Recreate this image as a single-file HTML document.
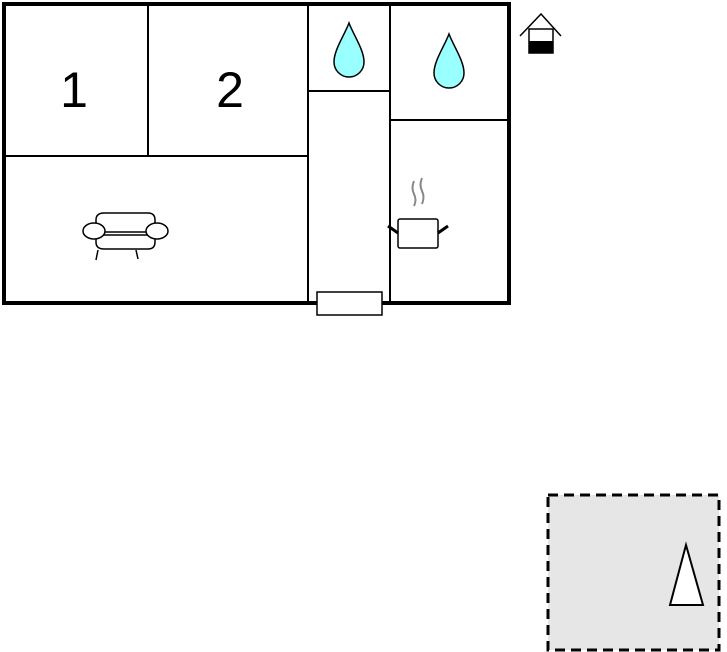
<!DOCTYPE html>
<html><head><style>body{margin:0;background:#fff;}svg{display:block}</style></head><body>
<svg width="727" height="652" xmlns="http://www.w3.org/2000/svg">
<rect x="4" y="4" width="505" height="299" fill="#fff" stroke="#000" stroke-width="4"/>
<g stroke="#000" stroke-width="2" fill="none">
<line x1="148" y1="4" x2="148" y2="157"/>
<line x1="4" y1="156" x2="308" y2="156"/>
<line x1="308" y1="4" x2="308" y2="303"/>
<line x1="390" y1="4" x2="390" y2="303"/>
<line x1="308" y1="91" x2="390" y2="91"/>
<line x1="390" y1="120" x2="509" y2="120"/>
</g>
<rect x="317" y="292" width="65" height="23" fill="#fff" stroke="#000" stroke-width="1.5"/>
<text x="74" y="107" font-family="Liberation Sans, sans-serif" font-size="50" text-anchor="middle">1</text>
<text x="230" y="107" font-family="Liberation Sans, sans-serif" font-size="50" text-anchor="middle">2</text>
<path d="M349 23 C 344 36, 334 50, 334 62 A15 15 0 0 0 364 62 C 364 50, 354 36, 349 23 Z" fill="#9ff" stroke="#000" stroke-width="1.5"/>
<path d="M449 34 C 444 47, 434 61, 434 73 A15 15 0 0 0 464 73 C 464 61, 454 47, 449 34 Z" fill="#9ff" stroke="#000" stroke-width="1.5"/>
<g stroke="#000" stroke-width="1.5" fill="#fff">
<path d="M96 232 L96 220 Q96 213 104 213 L148 213 Q155 213 155 220 L155 232 Z"/>
<path d="M96 235 L155 235 L155 242 Q155 249 148 249 L104 249 Q96 249 96 242 Z"/>
<ellipse cx="94" cy="231" rx="11" ry="8"/>
<ellipse cx="157" cy="231" rx="11" ry="8"/>
<line x1="98" y1="250" x2="96" y2="260"/>
<line x1="136" y1="250" x2="138" y2="259"/>
</g>
<g stroke="#888" stroke-width="2" fill="none">
<path d="M414 181 Q411 188 414 194 Q417 200 414 206"/>
<path d="M422 178 Q419 185 422 191 Q425 197 422 204"/>
</g>
<rect x="398" y="219" width="40" height="29" rx="2" fill="#fff" stroke="#000" stroke-width="1.5"/>
<line x1="388" y1="226" x2="398" y2="233" stroke="#000" stroke-width="3"/>
<line x1="448" y1="226" x2="438" y2="233" stroke="#000" stroke-width="3"/>
<path d="M520 36 L541 14 L561 36" fill="none" stroke="#000" stroke-width="1.5"/>
<rect x="529" y="29" width="24" height="24" fill="#fff" stroke="#000" stroke-width="1.5"/>
<rect x="529" y="41" width="24" height="12" fill="#000"/>
<rect x="548" y="495" width="171" height="155" fill="#e6e6e6" stroke="#000" stroke-width="3" stroke-dasharray="10,6"/>
<polygon points="686,545 670,605 703,605" fill="#fff" stroke="#000" stroke-width="2"/>
</svg>
</body></html>
